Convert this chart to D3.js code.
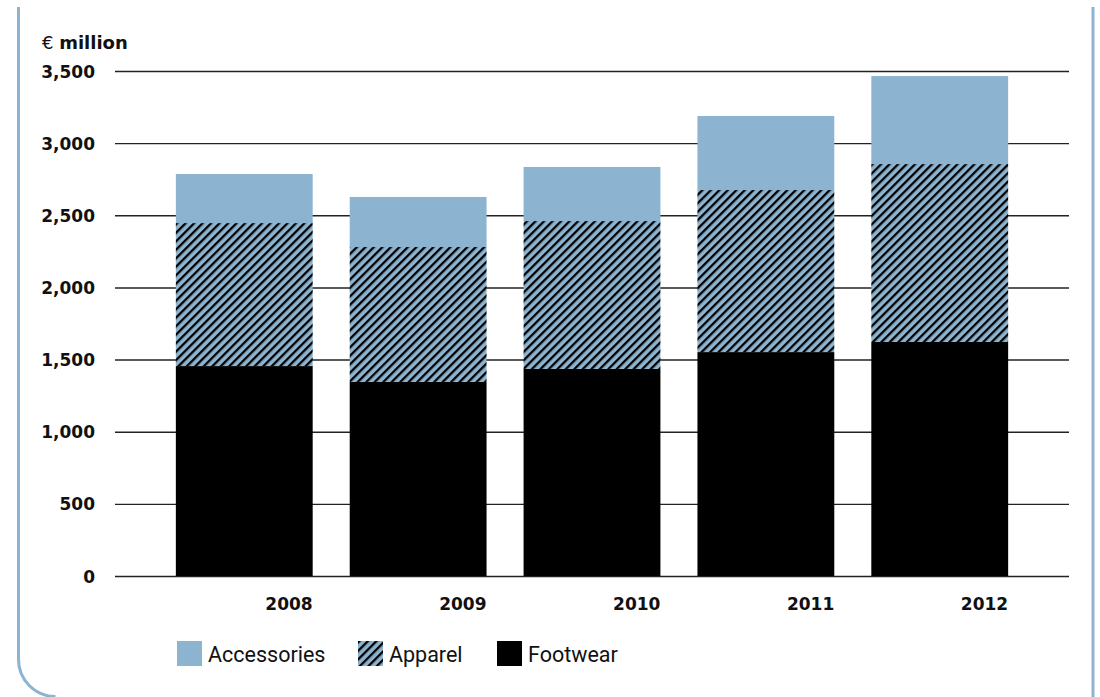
<!DOCTYPE html>
<html><head><meta charset="utf-8">
<script src="https://cdn.jsdelivr.net/npm/d3@7"></script>
<style>
body{margin:0;background:#fff;}
</style></head>
<body><svg id="c" width="1100" height="697"></svg>
<script>
const years = ["2008","2009","2010","2011","2012"];
const footwear = [1455, 1345, 1435, 1552, 1622];
const apparel = [991, 935, 1025, 1123, 1233];
const accessories = [340, 347, 375, 513, 610];
const yTicks = [0, 500, 1000, 1500, 2000, 2500, 3000, 3500];
const seriesNames = ["Footwear", "Apparel", "Accessories"];
const legendNames = ["Accessories", "Apparel", "Footwear"];

const blue = "#8cb4d0";
const svg = d3.select("#c");

const defs = svg.append("defs");
const pat = defs.append("pattern").attr("id","hatch").attr("patternUnits","userSpaceOnUse")
  .attr("width",6).attr("height",6).attr("patternTransform","rotate(45)");
pat.append("rect").attr("width",6).attr("height",6).attr("fill",blue);
pat.append("rect").attr("x",0).attr("y",0).attr("width",2.3).attr("height",6).attr("fill","#000");

// frame
svg.append("path").attr("d","M18.5,7 V659 A37,37 0 0 0 55.5,696.5")
  .attr("fill","none").attr("stroke",blue).attr("stroke-width",3);
svg.append("line").attr("x1",1093).attr("x2",1093).attr("y1",7).attr("y2",697)
  .attr("stroke",blue).attr("stroke-width",3);

const y = d3.scaleLinear().domain([0,3500]).range([576,71]);
const x = d3.scaleBand().domain(years).range([115,1069]).paddingInner(0.213).paddingOuter(0.35);

// gridlines
const yAxis = d3.axisLeft(y).tickValues(yTicks).tickSize(-(1069-115)).tickFormat(d3.format(","));
const gy = svg.append("g").attr("transform","translate(115,0)").call(yAxis);
gy.select(".domain").remove();
gy.selectAll(".tick line").attr("stroke","#222").attr("stroke-width",1.4);
gy.selectAll(".tick text").attr("x",-20).attr("dy","0.36em")
  .style("font-family","'DejaVu Sans',sans-serif")
  .style("font-size","17px").style("font-weight","bold").attr("fill","#111");

const data = years.map((yr,i)=>({year:yr, Footwear:footwear[i], Apparel:apparel[i], Accessories:accessories[i]}));
const stack = d3.stack().keys(seriesNames)(data);
const fills = {Footwear:"#000", Apparel:"url(#hatch)", Accessories:blue};

svg.append("g").selectAll("g").data(stack).join("g")
  .attr("fill",d=>fills[d.key])
  .selectAll("rect").data(d=>d).join("rect")
  .attr("x",d=>x(d.data.year)).attr("width",x.bandwidth())
  .attr("y",d=>y(d[1])).attr("height",d=>y(d[0])-y(d[1]));

// x labels
const xAxis = d3.axisBottom(x).tickSize(0);
const gx = svg.append("g").attr("transform","translate(0,576)").call(xAxis);
gx.select(".domain").remove();
gx.selectAll(".tick text").attr("text-anchor","end").attr("x",x.bandwidth()/2).attr("y",22)
  .attr("dy","0.71em").style("font-family","'DejaVu Sans',sans-serif")
  .style("font-size","17px").style("font-weight","bold").attr("fill","#111");

// unit label
const ul = svg.append("text").attr("x",42).attr("y",49)
  .style("font-family","'DejaVu Sans',sans-serif").style("font-size","18px").attr("fill","#111");
ul.append("tspan").text("€ ");
ul.append("tspan").style("font-weight","bold").text("million");

// legend
const legX = [177, 358, 497];
const lg = svg.append("g").selectAll("g").data(legendNames).join("g")
  .attr("transform",(d,i)=>`translate(${legX[i]},641)`);
lg.append("rect").attr("width",25).attr("height",25).attr("fill",d=>fills[d]);
lg.append("text").attr("x",31).attr("y",21).style("font-family","Roboto,sans-serif")
  .style("font-size","21.5px").attr("fill","#111").text(d=>d);
</script></body></html>
